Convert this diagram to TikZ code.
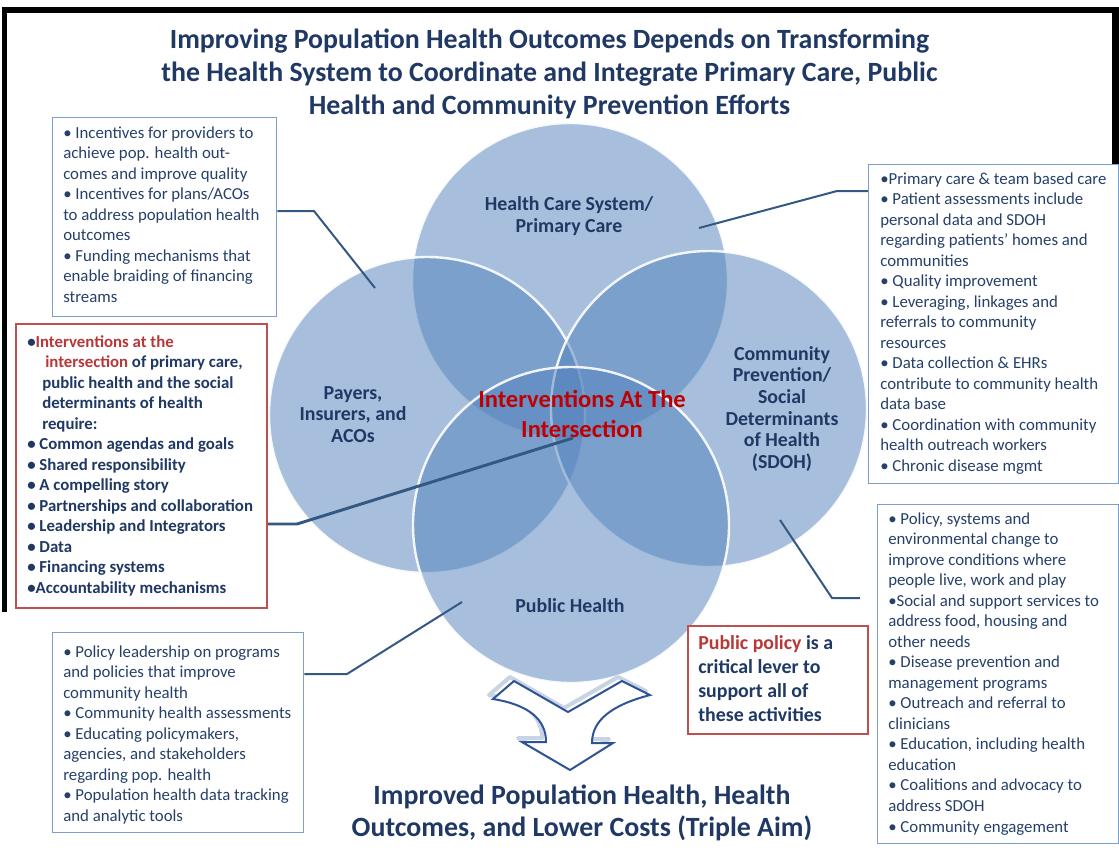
\documentclass[tikz,border=0pt]{standalone}
\usepackage{fontspec}
\setmainfont{Carlito}
\definecolor{navy}{RGB}{31,56,100}
\definecolor{boxtext}{RGB}{38,64,106}
\definecolor{boxblue}{RGB}{126,158,204}
\definecolor{redline}{RGB}{192,80,77}
\definecolor{redtxt}{RGB}{185,55,55}
\definecolor{centerred}{RGB}{192,0,0}
\definecolor{link}{RGB}{52,88,132}
\definecolor{vennblue}{RGB}{83,130,188}
\definecolor{arrowblue}{RGB}{47,84,150}
\definecolor{shadowblue}{RGB}{200,211,228}
\begin{document}
% multi-line nodes are anchored at the baseline of their last line
\begin{tikzpicture}[x=0.75pt,y=-0.75pt,
  venn/.style={circle, inner sep=0pt, minimum size=316*0.75pt, fill=vennblue, fill opacity=0.51,
    draw=white, draw opacity=0.9, line width=1.8pt},
  bluebox/.style={rectangle, inner sep=0pt, anchor=north west, draw=boxblue, fill=white, line width=1pt},
  redbox/.style={rectangle, inner sep=0pt, anchor=north west, draw=redline, fill=white, line width=1.5pt},
  boxtxt/.style={inner sep=0pt, anchor=base west, align=left, text=boxtext,
    font=\fontsize{12.6}{15.4}\selectfont},
  boldtxt/.style={inner sep=0pt, anchor=base west, align=left, text=navy,
    font=\fontsize{12.6}{15.4}\selectfont\bfseries},
  vennlabel/.style={inner sep=0pt, anchor=base, align=center, text=navy,
    font=\fontsize{14.9}{16.3}\selectfont\bfseries},
  headline/.style={inner sep=0pt, anchor=base, align=center, text=navy,
    font=\fontsize{20.9}{24.75}\selectfont\bfseries},
  link/.style={draw=link, line width=1.5pt},
  frame/.style={fill=black}
]
\useasboundingbox (0,0) rectangle (1119,850);

% black frame along the top and the sides
\fill[frame] (2,7) rectangle (1119,13);
\fill[frame] (2,7) rectangle (7,612);
\fill[frame] (1112,7) rectangle (1119,164);

% title
\node[headline] (title) at (549.5,114)
  {Improving Population Health Outcomes Depends on Transforming\\
   the Health System to Coordinate and Integrate Primary Care, Public\\
   Health and Community Prevention Efforts};

% Venn circles
\node[venn] (hcs) at (570,281) {};
\node[venn] (pay) at (427,415) {};
\node[venn] (cps) at (709,409) {};
\node[venn] (ph)  at (571,525) {};

% circle labels
\node[vennlabel] (hcsl) at (569,232.7) {Health Care System/\\Primary Care};
\node[vennlabel] (payl) at (353,442.5) {Payers,\\Insurers, and\\ACOs};
\node[vennlabel] (cpsl) at (782,468.7) {Community\\Prevention/\\Social\\Determinants\\of Health\\(SDOH)};
\node[vennlabel] (phl)  at (570,612) {Public Health};
\node[inner sep=0pt, anchor=base, align=center, text=centerred,
  font=\fontsize{18.4}{22.5}\selectfont\bfseries] (mid) at (582,437)
  {Interventions At The\\Intersection};

% text boxes
\node[bluebox, minimum width=224*0.75pt, minimum height=199*0.75pt] (tl) at (52,117) {};
\node[boxtxt] (tlt) at (63,302.3)
  {• Incentives for providers to\\
   achieve pop. health out-\\
   comes and improve quality\\
   • Incentives for plans/ACOs\\
   to address population health\\
   outcomes\\
   • Funding mechanisms that\\
   enable braiding of financing\\
   streams};

\node[bluebox, minimum width=250*0.75pt, minimum height=319*0.75pt] (tr) at (868,164) {};
\node[boxtxt] (trt) at (880,471.5)
  {•Primary care \& team based care\\
   • Patient assessments include\\
   personal data and SDOH\\
   regarding patients’ homes and\\
   communities\\
   • Quality improvement\\
   • Leveraging, linkages and\\
   referrals to community\\
   resources\\
   • Data collection \& EHRs\\
   contribute to community health\\
   data base\\
   • Coordination with community\\
   health outreach workers\\
   • Chronic disease mgmt};

\node[redbox, minimum width=251*0.75pt, minimum height=284*0.75pt] (rb) at (15,323) {};
\node[boldtxt] (rbt) at (27,593.4)
  {•\textcolor{redtxt}{Interventions at the}\\
   \hspace*{13.5pt}\textcolor{redtxt}{intersection} of primary care,\\
   \hspace*{11.25pt}public health and the social\\
   \hspace*{11.25pt}determinants of health\\
   \hspace*{11.25pt}require:\\
   • Common agendas and goals\\
   • Shared responsibility\\
   • A compelling story\\
   • Partnerships and collaboration\\
   • Leadership and Integrators\\
   • Data\\
   • Financing systems\\
   •Accountability mechanisms};

\node[bluebox, minimum width=241*0.75pt, minimum height=339*0.75pt] (br) at (877,504) {};
\node[boxtxt] (brt) at (888,832)
  {• Policy, systems and\\
   environmental change to\\
   improve conditions where\\
   people live, work and play\\
   •Social and support services to\\
   address food, housing and\\
   other needs\\
   • Disease prevention and\\
   management programs\\
   • Outreach and referral to\\
   clinicians\\
   • Education, including health\\
   education\\
   • Coalitions and advocacy to\\
   address SDOH\\
   • Community engagement};

\node[bluebox, minimum width=251*0.75pt, minimum height=200*0.75pt] (bl) at (52,632) {};
\node[boxtxt] (blt) at (63,821.3)
  {• Policy leadership on programs\\
   and policies that improve\\
   community health\\
   • Community health assessments\\
   • Educating policymakers,\\
   agencies, and stakeholders\\
   regarding pop. health\\
   • Population health data tracking\\
   and analytic tools};

\node[redbox, minimum width=180*0.75pt, minimum height=108*0.75pt] (pp) at (687,625) {};
\node[inner sep=0pt, anchor=base west, align=left, text=navy,
  font=\fontsize{14.9}{18}\selectfont\bfseries] (ppt) at (698,721)
  {\textcolor{redtxt}{Public policy} is a\\
   critical lever to\\
   support all of\\
   these activities};

% leader lines
\coordinate (a1) at (314,211); \coordinate (a2) at (375,288);
\coordinate (b1) at (837,191); \coordinate (b2) at (699,228);
\coordinate (c1) at (297,524); \coordinate (c2) at (573,438);
\coordinate (d1) at (347,674); \coordinate (d2) at (462,602);
\coordinate (e1) at (780,520); \coordinate (e2) at (832,598); \coordinate (e3) at (860,598);
\draw[link] (tl.east |- a1) -- (a1) -- (a2);
\draw[link] (tr.west |- b1) -- (b1) -- (b2);
\draw[link, line width=2.2pt] (rb.east |- c1) -- (c1) -- (c2);
\draw[link] (bl.east |- d1) -- (d1) -- (d2);
\draw[link] (e1) -- (e2) -- (e3);

% downward arrow with its soft shadow
\def\arrowpath{(493,699) -- (514,681) -- (568,712) -- (622,681) -- (650,695)
  .. controls (612,705) and (592,720) .. (592,743) -- (613,743) -- (570,770)
  -- (522,742) -- (546,742) .. controls (546,720) and (530,705) .. cycle}
\draw[shadowblue, line width=3pt, line join=round, shift={(-4,-4)}] \arrowpath;
\draw[arrowblue, fill=white, line width=1.5pt, line join=miter] \arrowpath;

% outcome
\node[headline, font=\fontsize{20.9}{24}\selectfont\bfseries] (goal) at (582,836)
  {Improved Population Health, Health\\
   Outcomes, and Lower Costs (Triple Aim)};
\end{tikzpicture}
\end{document}
